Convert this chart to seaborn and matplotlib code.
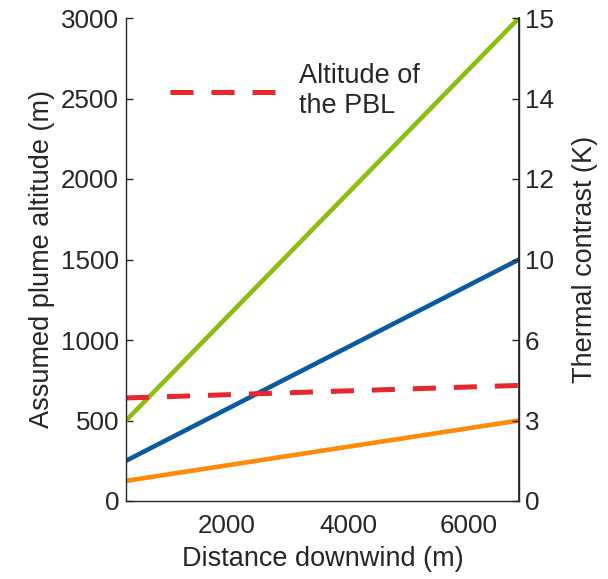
import matplotlib
matplotlib.use("Agg")
import matplotlib.pyplot as plt
import seaborn as sns
import pandas as pd

# Plume altitude scenarios along the downwind distance
distance = [330, 6830]
alt_high = [500, 3000]
alt_mid = [250, 1500]
alt_low = [125, 500]
pbl_distance = [330, 6830]
pbl_altitude = [640, 718]

left_ticks = [0, 500, 1000, 1500, 2000, 2500, 3000]
x_ticks = [2000, 4000, 6000]
thermal_labels = ["0", "3", "6", "10", "12", "14", "15"]

sns.set_theme(style="white")
plt.rcParams["font.family"] = ["Liberation Sans", "DejaVu Sans"]

TICK_FS = 18.7
LABEL_FS = 19.5
INK = "#262626"

plumes = pd.concat([
    pd.DataFrame({"distance": distance, "altitude": alt_high, "case": "high"}),
    pd.DataFrame({"distance": distance, "altitude": alt_mid, "case": "mid"}),
    pd.DataFrame({"distance": distance, "altitude": alt_low, "case": "low"}),
])
pbl = pd.DataFrame({"distance": pbl_distance, "altitude": pbl_altitude})

fig = plt.figure(figsize=(6.08, 5.79), dpi=100)
ax = fig.add_axes([126 / 608, 78 / 579, 393 / 608, 483 / 579])

palette = {"high": "#8cbd10", "mid": "#0a5aa0", "low": "#ff8a0a"}
sns.lineplot(data=plumes, x="distance", y="altitude", hue="case",
             palette=palette, linewidth=3.3, ax=ax, legend=False)
sns.lineplot(data=pbl, x="distance", y="altitude", color="#e8262d",
             linewidth=3.6, ax=ax, label="Altitude of\nthe PBL")
ax.lines[-1].set_dashes((4.6, 3.6))

ax.set_xlim(distance[0], distance[-1])
ax.set_ylim(0, 3000)
ax.set_xticks(x_ticks)
ax.set_yticks(left_ticks)
ax.set_xlabel("Distance downwind (m)", fontsize=LABEL_FS, color=INK, labelpad=5.5)
ax.set_ylabel("Assumed plume altitude (m)", fontsize=LABEL_FS, color=INK, labelpad=4)

for s in ["left", "bottom", "right"]:
    ax.spines[s].set_color(INK)
    ax.spines[s].set_linewidth(1.0)
ax.spines["top"].set_visible(False)
ax.tick_params(axis="x", direction="in", length=5, width=1, colors=INK,
               labelsize=TICK_FS, labelcolor=INK, pad=9.5)
ax.tick_params(axis="y", direction="in", length=5, width=1, colors=INK,
               labelsize=TICK_FS, labelcolor=INK, pad=5)

axr = ax.twinx()
axr.set_ylim(0, 3000)
axr.set_yticks(left_ticks)
axr.set_yticklabels(thermal_labels)
axr.set_ylabel("Thermal contrast (K)", fontsize=LABEL_FS, color=INK, labelpad=13.5)
for s in ["left", "bottom", "top"]:
    axr.spines[s].set_visible(False)
axr.spines["right"].set_color(INK)
axr.tick_params(axis="y", direction="in", length=5, width=1, colors=INK,
                labelsize=TICK_FS, labelcolor=INK, pad=4)

leg = ax.legend(loc="upper left", bbox_to_anchor=(0.05, 0.957), frameon=False,
                fontsize=LABEL_FS, handlelength=4.0, handletextpad=0.75)
for t in leg.get_texts():
    t.set_color(INK)

fig.savefig("out.png", dpi=100)
